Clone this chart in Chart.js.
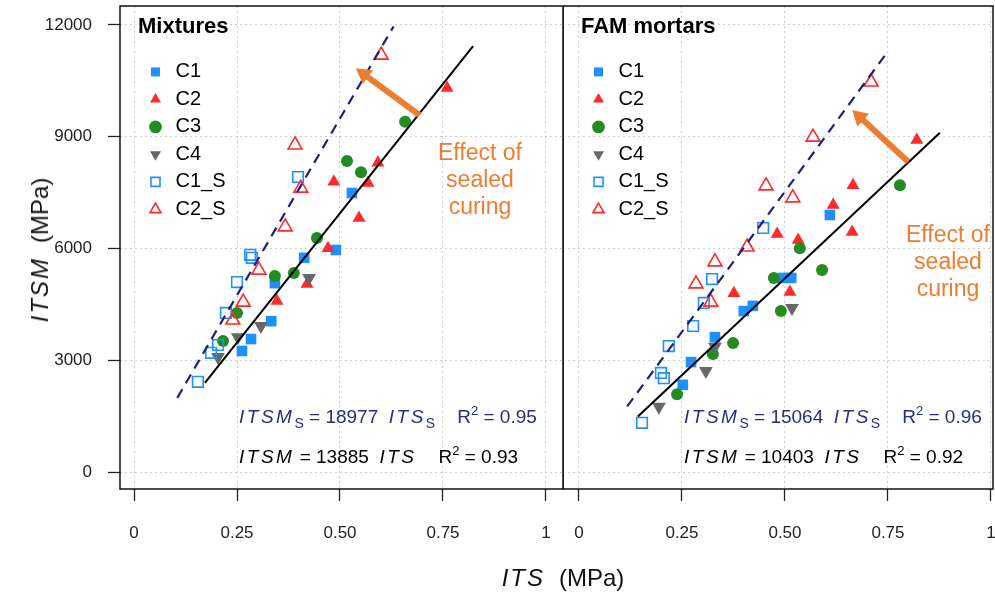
<!DOCTYPE html>
<html>
<head>
<meta charset="utf-8">
<title>ITSM vs ITS</title>
<script src="https://cdn.jsdelivr.net/npm/chart.js@4.4.1/dist/chart.umd.min.js"></script>
<style>
  body { margin: 0; background: #fff; }
  #wrap { position: relative; width: 995px; height: 598px; overflow: hidden; font-family: "Liberation Sans", Arial, sans-serif; }
  #wrap canvas { position: absolute; top: 0; }
  .lbl { position: absolute; white-space: nowrap; }
  .eq { font-size: 19px; line-height: 22px; color: #000; }
  .eq.navy { color: #2a2d80; }
  .eq i { letter-spacing: 2.5px; }
  .axt i { letter-spacing: 2px; }
  .eq sub { font-size: 14px; vertical-align: -5px; line-height: 0; }
  .eq sup { font-size: 13px; vertical-align: 8px; line-height: 0; }
  .eq .gap { display: inline-block; width: 22px; }
  .note { font-size: 23px; line-height: 27px; color: #ed7d31; text-align: center; transform: translateX(-50%); }
  .axt { font-size: 24px; line-height: 28px; color: #111; }
  .axt .sp { display: inline-block; width: 14px; }
</style>
</head>
<body>
<div id="wrap">
  <canvas id="mix" width="564" height="598" style="left:0"></canvas>
  <canvas id="fam" width="432" height="598" style="left:563px"></canvas>

  <div class="lbl note" style="left:480px;top:139px">Effect of<br>sealed<br>curing</div>
  <div class="lbl note" style="left:948px;top:221px">Effect of<br>sealed<br>curing</div>

  <div class="lbl eq navy" style="left:239px;top:406px"><i>ITSM</i><sub>S</sub> = 18977&nbsp; <i>ITS</i><sub>S</sub><span class="gap"></span>R<sup>2</sup>&nbsp;= 0.95</div>
  <div class="lbl eq" style="left:239px;top:446px"><i>ITSM</i> = 13885&nbsp; <i>ITS</i><span class="gap"></span>R<sup>2</sup>&nbsp;= 0.93</div>
  <div class="lbl eq navy" style="left:684px;top:406px"><i>ITSM</i><sub>S</sub> = 15064&nbsp; <i>ITS</i><sub>S</sub><span class="gap"></span>R<sup>2</sup>&nbsp;= 0.96</div>
  <div class="lbl eq" style="left:684px;top:446px"><i>ITSM</i> = 10403&nbsp; <i>ITS</i><span class="gap"></span>R<sup>2</sup>&nbsp;= 0.92</div>

  <div class="lbl axt" style="left:563px;top:564px;transform:translateX(-50%)"><i>ITS</i><span class="sp"></span>(MPa)</div>
  <div class="lbl axt" style="left:40px;top:250px;transform:translate(-50%,-50%) rotate(-90deg)"><i>ITSM</i><span class="sp"></span>(MPa)</div>
</div>

<script>
// Оси
const xTicks = [0, 0.25, 0.5, 0.75, 1];
const xTickLabels = ['0', '0.25', '0.50', '0.75', '1'];
const yTicks = [0, 3000, 6000, 9000, 12000];
const yTickLabels = ['0', '3000', '6000', '9000', '12000'];
const series = ['C1', 'C2', 'C3', 'C4', 'C1_S', 'C2_S'];

// Mixtures: [ITS, ITSM]
const mixC1 = [[0.262,3250],[0.284,3570],[0.333,4050],[0.342,5070],[0.413,5750],[0.490,5960],[0.529,7490]];
const mixC2 = [[0.347,4590],[0.420,5050],[0.471,6010],[0.485,7790],[0.546,6820],[0.568,7760],[0.592,8300],[0.760,10310]];
const mixC3 = [[0.216,3520],[0.250,4270],[0.342,5260],[0.388,5340],[0.444,6280],[0.517,8350],[0.551,8050],[0.658,9400]];
const mixC4 = [[0.204,3090],[0.252,3620],[0.308,3920],[0.425,5210]];
const mixC1S = [[0.155,2420],[0.187,3200],[0.204,3410],[0.223,4270],[0.250,5100],[0.282,5830],[0.286,5750],[0.398,7920]];
const mixC2S = [[0.240,4080],[0.265,4560],[0.303,5420],[0.367,6580],[0.391,8780],[0.405,7620],[0.600,11190]];
const mixFitX = [0.172, 0.823];
const mixFitY = [2390, 11430];
const mixSealX = [0.105, 0.63];
const mixSealY = [1990, 11960];
const mixArrowX = [0.6925, 0.558];
const mixArrowY = [9584, 10680];

// FAM mortars: [ITS, ITSM]
const famC1 = [[0.252,2340],[0.272,2950],[0.330,3620],[0.400,4320],[0.422,4460],[0.495,5210],[0.515,5210],[0.609,6900]];
const famC2 = [[0.376,4800],[0.481,6390],[0.512,4830],[0.532,6230],[0.617,7170],[0.663,6440],[0.665,7700],[0.820,8910]];
const famC3 = [[0.238,2090],[0.325,3170],[0.374,3460],[0.473,5210],[0.490,4320],[0.536,6010],[0.590,5420],[0.779,7700]];
const famC4 = [[0.194,1750],[0.308,2710],[0.330,3360],[0.517,4400]];
const famC1S = [[0.153,1320],[0.199,2660],[0.206,2520],[0.218,3380],[0.277,3920],[0.303,4540],[0.323,5180],[0.447,6550]];
const famC2S = [[0.320,4560],[0.284,5050],[0.330,5640],[0.408,6040],[0.454,7680],[0.519,7360],[0.568,8990],[0.709,10470]];
const famFitX = [0.143, 0.876];
const famFitY = [1490, 9110];
const famSealX = [0.117, 0.743];
const famSealY = [1760, 11190];
const famArrowX = [0.799, 0.681];
const famArrowY = [8330, 9536];

const FONT = '"Liberation Sans", Arial, sans-serif';
Chart.defaults.font.family = FONT;

// Стили маркеров
const styles = [
    { shape: 'rect', color: '#1e90ff', fill: true, radius: 7.5, rot: 0 },
    { shape: 'triangle', color: '#ff2a2a', fill: true, radius: 7.5, rot: 0 },
    { shape: 'circle', color: '#228b22', fill: true, radius: 6, rot: 0 },
    { shape: 'triangle', color: '#676767', fill: true, radius: 8, rot: 180 },
    { shape: 'rect', color: '#1e90ff', fill: false, radius: 7.5, rot: 0 },
    { shape: 'triangle', color: '#ff2a2a', fill: false, radius: 8, rot: 0 }
];

function toXY(pairs) { return pairs.map(p => ({ x: p[0], y: p[1] })); }
function zipXY(xs, ys) { return xs.map((x, i) => ({ x: x, y: ys[i] })); }

// Рамка + легенда внутри области графика
const framePlugin = {
    id: 'frame',
    afterLayout(chart) {
        chart.legend.left = chart.chartArea.left + 18;
        chart.legend.top = chart.chartArea.top;
    },
    beforeDatasetsDraw(chart) {
        const { ctx, chartArea: a } = chart;
        ctx.save();
        ctx.strokeStyle = '#111';
        ctx.lineWidth = 1.5;
        ctx.strokeRect(a.left, a.top, a.right - a.left, a.bottom - a.top);
        ctx.restore();
    }
};

function makePanel(id, o) {
    const datasets = o.points.map((pts, i) => {
        const s = styles[i];
        return {
            label: series[i],
            data: toXY(pts),
            order: 10 - i,
            pointStyle: s.shape,
            pointRotation: s.rot,
            pointRadius: s.radius,
            pointHoverRadius: s.radius,
            pointBackgroundColor: s.fill ? s.color : 'rgba(0,0,0,0)',
            pointBorderColor: s.color,
            pointBorderWidth: s.fill ? 0 : 1.6
        };
    });
    datasets.push({
        label: 'fit', data: zipXY(o.fitX, o.fitY), showLine: true,
        borderColor: '#000', borderWidth: 2, pointRadius: 0, order: 2
    });
    datasets.push({
        label: 'sealed', data: zipXY(o.sealX, o.sealY), showLine: true,
        borderColor: '#1f1f78', borderWidth: 2.2, borderDash: [10, 7], pointRadius: 0, order: 2
    });
    datasets.push({
        label: 'arrow', data: zipXY(o.arrowX, o.arrowY), showLine: true,
        borderColor: '#ed7d31', borderWidth: 6, borderCapStyle: 'butt',
        pointStyle: 'triangle', pointRadius: [0, 10], pointHoverRadius: [0, 10],
        pointRotation: [0, o.arrowRot], pointBackgroundColor: '#ed7d31', pointBorderWidth: 0,
        order: 1
    });

    return new Chart(document.getElementById(id), {
        type: 'scatter',
        data: { datasets: datasets },
        options: {
            responsive: false,
            animation: false,
            events: [],
            devicePixelRatio: 1,
            layout: { autoPadding: false, padding: { top: 6, left: 0, right: o.left ? 1 : 2, bottom: 0 } },
            plugins: {
                tooltip: { enabled: false },
                legend: {
                    position: 'chartArea',
                    align: 'start',
                    title: {
                        display: true, text: o.title, position: 'start', color: '#000',
                        font: { size: 22, weight: 'bold' }, padding: { top: 10, bottom: 12 }
                    },
                    labels: {
                        usePointStyle: true, boxHeight: 9, boxWidth: 20, padding: 7.5,
                        color: '#000', font: { size: 20 },
                        filter: item => item.datasetIndex < 6,
                        sort: (a, b) => a.datasetIndex - b.datasetIndex
                    }
                }
            },
            scales: {
                x: {
                    type: 'linear', min: o.xMin, max: o.xMax,
                    afterBuildTicks: s => { s.ticks = xTicks.map(v => ({ value: v })); },
                    afterFit: s => { s.height = 109; s.paddingLeft = 0; s.paddingRight = 0; },
                    ticks: {
                        callback: (v, i) => xTickLabels[i], autoSkip: false, maxRotation: 0,
                        color: '#222', font: { size: 17 }, padding: 22
                    },
                    grid: { color: '#cfcfcf', lineWidth: 1, tickLength: 12, tickColor: '#222', tickWidth: 1.3, tickBorderDash: [] },
                    border: { display: false, dash: [2, 3] }
                },
                y: {
                    type: 'linear', min: -456, max: 12510,
                    afterBuildTicks: s => { s.ticks = yTicks.map(v => ({ value: v })); },
                    afterFit: s => { s.width = o.left ? 120 : 0; s.paddingTop = 0; s.paddingBottom = 0; },
                    ticks: {
                        display: o.left, callback: (v, i) => yTickLabels[i],
                        color: '#222', font: { size: 17 }, padding: 16
                    },
                    grid: { color: '#cfcfcf', lineWidth: 1, drawTicks: o.left, tickLength: 12, tickColor: '#222', tickWidth: 1.3, tickBorderDash: [] },
                    border: { display: false, dash: [2, 3] }
                }
            }
        },
        plugins: [framePlugin]
    });
}

makePanel('mix', {
    left: true, title: 'Mixtures', xMin: -0.034, xMax: 1.0413,
    points: [mixC1, mixC2, mixC3, mixC4, mixC1S, mixC2S],
    fitX: mixFitX, fitY: mixFitY, sealX: mixSealX, sealY: mixSealY,
    arrowX: mixArrowX, arrowY: mixArrowY, arrowRot: -53.6
});

makePanel('fam', {
    left: false, title: 'FAM mortars', xMin: -0.0388, xMax: 1.0049,
    points: [famC1, famC2, famC3, famC4, famC1S, famC2S],
    fitX: famFitX, fitY: famFitY, sealX: famSealX, sealY: famSealY,
    arrowX: famArrowX, arrowY: famArrowY, arrowRot: -47.3
});
</script>
</body>
</html>
